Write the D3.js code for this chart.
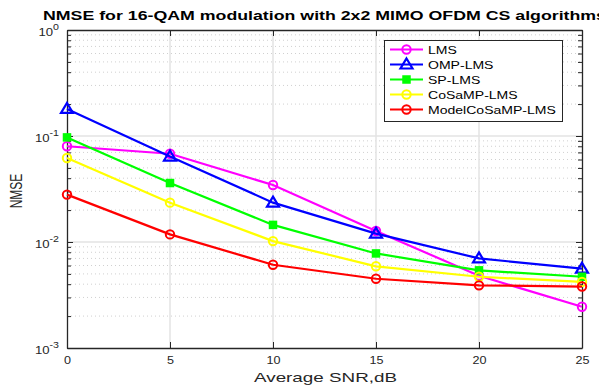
<!DOCTYPE html>
<html>
<head>
<meta charset="utf-8">
<script src="https://cdn.jsdelivr.net/npm/d3@7"></script>
<style>
  body { margin: 0; background: #fff; }
  text { font-family: "Liberation Sans", Arial, sans-serif; }
</style>
</head>
<body>
<svg width="599" height="385"></svg>
<script>
var snr = [0, 5, 10, 15, 20, 25];
var lms = [0.080, 0.068, 0.0345, 0.0127, 0.0048, 0.00245];
var omp = [0.180, 0.064, 0.0235, 0.0120, 0.0070, 0.0056];
var sp = [0.097, 0.036, 0.0145, 0.0078, 0.0054, 0.0047];
var cosamp = [0.062, 0.0235, 0.0102, 0.0059, 0.0047, 0.0042];
var modelcosamp = [0.028, 0.0118, 0.0061, 0.0045, 0.0039, 0.0038];
var names = ["LMS", "OMP-LMS", "SP-LMS", "CoSaMP-LMS", "ModelCoSaMP-LMS"];
var colors = ["#ff00ff", "#0000ff", "#00ff00", "#ffff00", "#ff0000"];
var markers = ["circle", "triangle", "square", "circle", "circle"];
var series = [lms, omp, sp, cosamp, modelcosamp];
var xTicks = [0, 5, 10, 15, 20, 25];
var yExps = [0, -1, -2, -3];

var mLeft = 67, mTop = 30, mRight = 582, mBottom = 348;
var stretch = 1.25; // the picture's text is wider than it is tall
var svg = d3.select("svg");

var x = d3.scaleLinear().domain([0, 25]).range([mLeft, mRight]);
var y = d3.scaleLog().domain([1e-3, 1]).range([mBottom, mTop]);

// grid
var g = svg.append("g");
var minor = [];
for (var e = -3; e < 0; e++) for (var k = 2; k <= 9; k++) minor.push(k * Math.pow(10, e));
var major = yExps.map(d => Math.pow(10, d));
g.selectAll(".minor").data(minor).join("line")
    .attr("x1", mLeft).attr("x2", mRight)
    .attr("y1", d => y(d)).attr("y2", d => y(d))
    .attr("stroke", "#d0d0d0").attr("stroke-width", 1).attr("stroke-dasharray", "1,3");
g.selectAll(".majy").data(major.slice(1, 3)).join("line")
    .attr("x1", mLeft).attr("x2", mRight)
    .attr("y1", d => y(d)).attr("y2", d => y(d))
    .attr("stroke", "#e3e3e3").attr("stroke-width", 1.5);
g.selectAll(".majx").data(xTicks.slice(1, 5)).join("line")
    .attr("y1", mTop).attr("y2", mBottom)
    .attr("x1", d => x(d)).attr("x2", d => x(d))
    .attr("stroke", "#e3e3e3").attr("stroke-width", 1.5);

// axes
var isMajor = d => Math.abs(Math.log10(d) - Math.round(Math.log10(d))) < 1e-9;
var yAxis = d3.axisLeft(y).tickValues(minor.concat(major)).tickFormat("").tickSizeOuter(0);
svg.append("g").attr("transform", "translate(" + mLeft + ",0)").call(yAxis)
    .call(a => a.selectAll("line").attr("stroke", "#262626").attr("x2", d => isMajor(d) ? 6 : 4))
    .call(a => a.select(".domain").attr("stroke", "#262626").attr("stroke-width", 1.3));
var yAxisR = d3.axisRight(y).tickValues(minor.concat(major)).tickFormat("").tickSizeOuter(0);
svg.append("g").attr("transform", "translate(" + mRight + ",0)").call(yAxisR)
    .call(a => a.selectAll("line").attr("stroke", "#262626").attr("x2", d => isMajor(d) ? -6 : -4))
    .call(a => a.select(".domain").attr("stroke", "#262626").attr("stroke-width", 1.3));
var xAxis = d3.axisBottom(x).tickValues(xTicks).tickSizeInner(-6).tickSizeOuter(0).tickPadding(9);
svg.append("g").attr("transform", "translate(0," + mBottom + ")").call(xAxis)
    .call(a => a.selectAll("line").attr("stroke", "#262626"))
    .call(a => a.select(".domain").attr("stroke", "#262626").attr("stroke-width", 1.3))
    .call(a => a.selectAll("text").attr("font-size", 10.5).attr("fill", "#262626")
        .attr("transform", "scale(1.2,1)")
        .attr("font-family", "Liberation Sans, Arial, sans-serif"));
var xAxisT = d3.axisTop(x).tickValues(xTicks).tickFormat("").tickSizeInner(-6).tickSizeOuter(0);
svg.append("g").attr("transform", "translate(0," + mTop + ")").call(xAxisT)
    .call(a => a.selectAll("line").attr("stroke", "#262626"))
    .call(a => a.select(".domain").attr("stroke", "#262626").attr("stroke-width", 1.3));

// y tick labels 10^n
var yl = svg.append("g").selectAll("text").data(yExps).join("text")
    .attr("transform", d => "translate(59," + (y(Math.pow(10, d)) + 5.5) + ") scale(" + stretch + ",1)")
    .attr("text-anchor", "end").attr("font-size", 10.5).attr("fill", "#262626");
yl.append("tspan").text("10");
yl.append("tspan").attr("dy", -5.5).attr("font-size", 8.5).text(d => d);

// lines and markers
var line = d3.line().x((d, i) => x(snr[i])).y(d => y(d));
series.forEach(function (s, si) {
  var c = colors[si];
  svg.append("path").datum(s).attr("d", line)
      .attr("fill", "none").attr("stroke", c).attr("stroke-width", 2.2);
  var gg = svg.append("g");
  s.forEach(function (v, i) { drawMarker(gg, x(snr[i]), y(v), markers[si], c); });
});

function drawMarker(gg, px, py, type, c) {
  if (type === "circle") {
    gg.append("circle").attr("cx", px).attr("cy", py).attr("r", 4.2)
        .attr("fill", "none").attr("stroke", c).attr("stroke-width", 2);
  } else if (type === "triangle") {
    gg.append("path").attr("d", "M" + px + "," + (py - 6) + "L" + (px + 6) + "," + (py + 4) + "L" + (px - 6) + "," + (py + 4) + "Z")
        .attr("fill", "none").attr("stroke", c).attr("stroke-width", 2.2);
  } else {
    gg.append("rect").attr("x", px - 3.5).attr("y", py - 3.5).attr("width", 7).attr("height", 7)
        .attr("fill", c).attr("stroke", c).attr("stroke-width", 1.5);
  }
}

// legend
var lg = svg.append("g");
lg.append("rect").attr("x", 384.5).attr("y", 40.5).attr("width", 178).attr("height", 81)
    .attr("fill", "#fff").attr("stroke", "#262626").attr("stroke-width", 1);
names.forEach(function (n, i) {
  var ly = 49.5 + i * 15;
  lg.append("line").attr("x1", 390).attr("x2", 423).attr("y1", ly).attr("y2", ly)
      .attr("stroke", colors[i]).attr("stroke-width", 2.2);
  drawMarker(lg, 406.5, ly, markers[i], colors[i]);
  lg.append("text").attr("transform", "translate(428," + (ly + 4) + ") scale(1.3,1)")
      .attr("font-size", 10.8).attr("fill", "#000").text(n);
});

// title and labels
svg.append("text").attr("x", 324.5).attr("y", 19.5).attr("text-anchor", "middle")
    .attr("font-size", 13.5).attr("font-weight", "bold").attr("fill", "#000")
    .attr("textLength", 563).attr("lengthAdjust", "spacingAndGlyphs")
    .text("NMSE for 16-QAM modulation with 2x2 MIMO OFDM CS algorithms");
svg.append("text").attr("x", 325.5).attr("y", 382).attr("text-anchor", "middle")
    .attr("font-size", 13.5).attr("fill", "#262626")
    .attr("textLength", 143).attr("lengthAdjust", "spacingAndGlyphs").text("Average SNR,dB");
svg.append("text").attr("transform", "translate(22,191) rotate(-90) scale(1,1.3)").attr("text-anchor", "middle")
    .attr("font-size", 12).attr("fill", "#262626").text("NMSE");
</script>
</body>
</html>
